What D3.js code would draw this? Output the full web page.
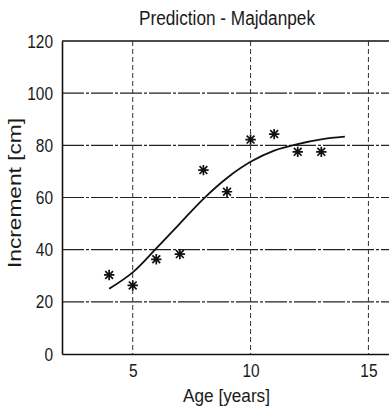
<!DOCTYPE html>
<html><head><meta charset="utf-8">
<script src="https://cdn.jsdelivr.net/npm/d3@7"></script>
<style>body{margin:0;background:#fff}svg{display:block}text{font-family:"Liberation Sans",Arial,sans-serif;fill:#1a1a1a}</style>
</head><body>
<script>
const ages = [4,5,6,7,8,9,10,11,12,13];
const observed = [30.3,26.3,36.3,38.3,70.5,62.2,82.2,84.3,77.5,77.5];
const curveAges = [4,5,6,7,8,9,10,11,12,13,14];
const predicted = [25,31.3,40.5,50,59.5,67.5,73.7,78,80.5,82.3,83.3];
const xTicks = [5,10,15];
const yTicks = [0,20,40,60,80,100,120];

const W=389,H=411;
const svg=d3.select("body").append("svg").attr("width",W).attr("height",H);
const x=d3.scaleLinear().domain([2,16]).range([62,392]);
const y=d3.scaleLinear().domain([0,120]).range([354,41]);

// grid
svg.append("g").selectAll("line").data(yTicks.filter(d=>d>0&&d<120)).join("line")
 .attr("x1",62).attr("x2",W).attr("y1",d=>y(d)).attr("y2",d=>y(d))
 .attr("stroke","#222").attr("stroke-width",1.2).attr("stroke-dasharray","22,2,3,2");
svg.append("g").selectAll("line").data(xTicks).join("line")
 .attr("x1",d=>x(d)).attr("x2",d=>x(d)).attr("y1",41).attr("y2",354)
 .attr("stroke","#333").attr("stroke-width",1).attr("stroke-dasharray","5,3");

// axes
const gx=svg.append("g").attr("transform","translate(0,354)")
 .call(d3.axisBottom(x).tickValues(xTicks).tickSize(0).tickPadding(9.5));
const gy=svg.append("g").attr("transform","translate(62,0)")
 .call(d3.axisLeft(y).tickValues(yTicks).tickSize(0).tickPadding(9));
[gx,gy].forEach(g=>{g.select(".domain").attr("stroke","#111").attr("stroke-width",1.6);
 g.selectAll("text").attr("font-size",19).attr("fill","#1a1a1a").attr("font-family","Liberation Sans, Arial, sans-serif")
  .attr("textLength",function(){return this.textContent.length*8.6;}).attr("lengthAdjust","spacingAndGlyphs");});
svg.append("line").attr("x1",62).attr("x2",W).attr("y1",41).attr("y2",41).attr("stroke","#111").attr("stroke-width",1.4);

// curve
svg.append("path").datum(curveAges.map((a,i)=>[a,predicted[i]]))
 .attr("d",d3.line().x(d=>x(d[0])).y(d=>y(d[1])).curve(d3.curveCatmullRom))
 .attr("fill","none").attr("stroke","#111").attr("stroke-width",1.8);

// asterisk markers (plus + cross)
const r=5.2, rd=3.9;
svg.append("g").selectAll("path").data(ages.map((a,i)=>[a,observed[i]])).join("path")
 .attr("transform",d=>`translate(${x(d[0])},${y(d[1])})`)
 .attr("d",`M${-r},0H${r}M0,${-r}V${r}M${-rd},${-rd}L${rd},${rd}M${-rd},${rd}L${rd},${-rd}`)
 .attr("stroke","#111").attr("stroke-width",1.7).attr("fill","none");

svg.append("text").attr("x",227).attr("y",25).attr("text-anchor","middle").attr("font-size",20)
 .attr("textLength",176).attr("lengthAdjust","spacingAndGlyphs").text("Prediction - Majdanpek");
svg.append("text").attr("x",226.5).attr("y",402).attr("text-anchor","middle").attr("font-size",18)
 .attr("textLength",87).attr("lengthAdjust","spacingAndGlyphs").text("Age [years]");
svg.append("text").attr("transform","translate(21,193) rotate(-90)").attr("text-anchor","middle").attr("font-size",19)
 .attr("textLength",150).attr("lengthAdjust","spacingAndGlyphs").text("Increment [cm]");
</script>
</body></html>
